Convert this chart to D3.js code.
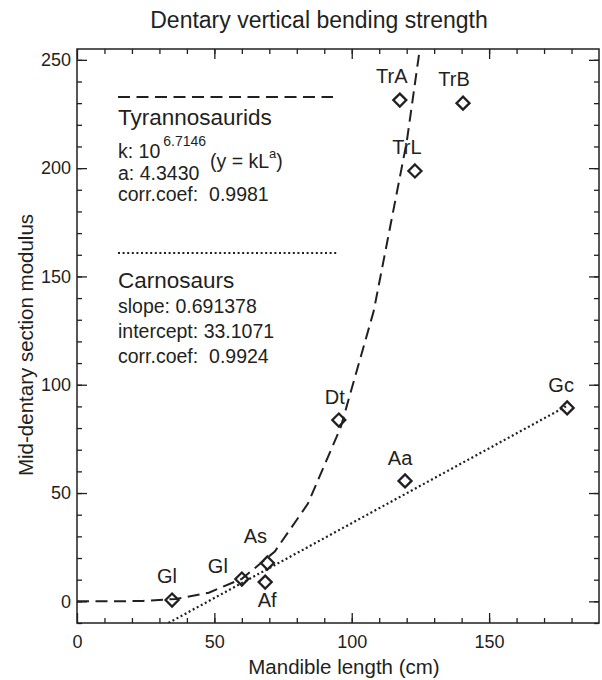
<!DOCTYPE html>
<html>
<head>
<meta charset="utf-8">
<script src="https://cdn.jsdelivr.net/npm/d3@7"></script>
<style>
  body { margin: 0; background: #fff; }
  text { font-family: "Liberation Sans", Arial, sans-serif; fill: #231f20; white-space: pre; }
</style>
</head>
<body>
<div id="chart"></div>
<script>
// species codes and values
var labels = ["Gl", "Gl", "As", "Af", "Dt", "Aa", "Gc", "TrA", "TrB", "TrL"];
var lengths = [34.6, 60, 69.3, 68.5, 95.3, 119.4, 178.4, 117.5, 140.5, 123];
var moduli = [0.6, 10.3, 17.7, 8.9, 83.7, 55.6, 89.3, 231.4, 230, 198.7];

// fitted curves as drawn in the figure
var tyrannoCurveX = [0, 12, 24, 36, 48, 60, 72, 84, 96, 108, 120, 132];
var tyrannoCurveY = [0, 0, 0.2, 1.1, 4, 10.4, 23, 45, 80.4, 134, 212, 320];
var carnoLineX = [33.3, 178];
var carnoLineY = [-10, 90];

var xTicks = [0, 50, 100, 150];
var yTicks = [0, 50, 100, 150, 200, 250];

// label nudges (px) relative to each diamond
var labelDx = [-5, -24, -12, 2, -4, -5, -6, -8, -9, -8];
var labelDy = [-17, -6, -20, 25, -16, -16, -16, -17, -17, -17];

var W = 602, H = 680;
var margin = {top: 49, right: 3, bottom: 57, left: 77};
var width = W - margin.left - margin.right,
    height = H - margin.top - margin.bottom;

var svg = d3.select("#chart").append("svg")
    .attr("width", W)
    .attr("height", H);

var g = svg.append("g")
    .attr("transform", "translate(" + margin.left + "," + margin.top + ")");

var x = d3.scaleLinear().domain([0, 190]).range([0, width]);
var y = d3.scaleLinear().domain([-10, 255]).range([height, 0]);

var ink = "#231f20";

// axes, ticks pointing inward on all four sides
function styleAxis(sel) {
    sel.select(".domain").remove();
    sel.selectAll(".tick line").attr("stroke", ink).attr("stroke-width", 1.3);
    sel.selectAll("text").style("font-size", "18px").attr("fill", ink);
}
var xMinor = d3.range(10, 190, 10), yMinor = d3.range(-10, 255, 10);

g.append("g").attr("transform", "translate(0," + height + ")")
    .call(d3.axisBottom(x).tickValues(xTicks).tickSize(-10).tickSizeOuter(0).tickPadding(12))
    .call(styleAxis);
g.append("g").attr("transform", "translate(0," + height + ")")
    .call(d3.axisBottom(x).tickValues(xMinor).tickSize(-5).tickFormat(""))
    .call(styleAxis);
g.append("g")
    .call(d3.axisTop(x).tickValues(xTicks).tickSize(-10).tickFormat(""))
    .call(styleAxis);
g.append("g")
    .call(d3.axisTop(x).tickValues(xMinor).tickSize(-5).tickFormat(""))
    .call(styleAxis);

g.append("g")
    .call(d3.axisLeft(y).tickValues(yTicks).tickSize(-10).tickPadding(6))
    .call(styleAxis);
g.append("g")
    .call(d3.axisLeft(y).tickValues(yMinor).tickSize(-5).tickFormat(""))
    .call(styleAxis);
g.append("g").attr("transform", "translate(" + width + ",0)")
    .call(d3.axisRight(y).tickValues(yTicks).tickSize(-10).tickFormat(""))
    .call(styleAxis);
g.append("g").attr("transform", "translate(" + width + ",0)")
    .call(d3.axisRight(y).tickValues(yMinor).tickSize(-5).tickFormat(""))
    .call(styleAxis);

g.append("rect")
    .attr("width", width).attr("height", height)
    .attr("fill", "none").attr("stroke", ink).attr("stroke-width", 1.5);

// clip fits to plot area
g.append("clipPath").attr("id", "plotclip")
    .append("rect").attr("width", width).attr("height", height);

var line = d3.line()
    .x(function(d) { return x(d[0]); })
    .y(function(d) { return y(d[1]); });

g.append("path")
    .datum(d3.zip(tyrannoCurveX, tyrannoCurveY))
    .attr("clip-path", "url(#plotclip)")
    .attr("d", line)
    .attr("fill", "none").attr("stroke", ink)
    .attr("stroke-width", 2).attr("stroke-dasharray", "12,6.5");

g.append("path")
    .datum(d3.zip(carnoLineX, carnoLineY))
    .attr("clip-path", "url(#plotclip)")
    .attr("d", line)
    .attr("fill", "none").attr("stroke", ink)
    .attr("stroke-width", 2.2).attr("stroke-dasharray", "2,2.6");

// diamonds
var pts = d3.range(labels.length).map(function(i) {
    return {label: labels[i], x: lengths[i], y: moduli[i], dx: labelDx[i], dy: labelDy[i]};
});
var s = 6.5;
g.selectAll(".pt").data(pts).enter().append("path")
    .attr("class", "pt")
    .attr("d", "M0," + (-s) + "L" + s + ",0L0," + s + "L" + (-s) + ",0Z")
    .attr("transform", function(d) { return "translate(" + x(d.x) + "," + y(d.y) + ")"; })
    .attr("fill", "none").attr("stroke", ink).attr("stroke-width", 2.3);

g.selectAll(".lbl").data(pts).enter().append("text")
    .attr("class", "lbl")
    .attr("x", function(d) { return x(d.x) + d.dx; })
    .attr("y", function(d) { return y(d.y) + d.dy; })
    .attr("text-anchor", "middle")
    .style("font-size", "20px")
    .text(function(d) { return d.label; });

// legend block
var fs = "19.5px", hs = "22.5px";
svg.append("line").attr("x1", 118).attr("x2", 333).attr("y1", 97).attr("y2", 97)
    .attr("stroke", ink).attr("stroke-width", 2).attr("stroke-dasharray", "12,6.5");
svg.append("text").attr("x", 118).attr("y", 125).style("font-size", hs).text("Tyrannosaurids");
var kText = svg.append("text").attr("x", 118).attr("y", 158).style("font-size", fs);
kText.append("tspan").text("k: 10");
kText.append("tspan").attr("dx", 3).attr("dy", -12).style("font-size", "14px").text("6.7146");
var eqText = svg.append("text").attr("x", 210).attr("y", 168).style("font-size", fs);
eqText.append("tspan").text("(y = kL");
eqText.append("tspan").attr("dy", -10).style("font-size", "13px").text("a");
eqText.append("tspan").attr("dy", 10).text(")");
svg.append("text").attr("x", 118).attr("y", 180).style("font-size", fs).text("a: 4.3430");
svg.append("text").attr("x", 118).attr("y", 201).style("font-size", fs).text("corr.coef:  0.9981");

svg.append("line").attr("x1", 118).attr("x2", 337).attr("y1", 253).attr("y2", 253)
    .attr("stroke", ink).attr("stroke-width", 2.2).attr("stroke-dasharray", "2,2.6");
svg.append("text").attr("x", 118).attr("y", 288).style("font-size", hs).text("Carnosaurs");
svg.append("text").attr("x", 118).attr("y", 313).style("font-size", fs).text("slope: 0.691378");
svg.append("text").attr("x", 118).attr("y", 338).style("font-size", fs).text("intercept: 33.1071");
svg.append("text").attr("x", 118).attr("y", 363).style("font-size", fs).text("corr.coef:  0.9924");

// titles
svg.append("text").attr("x", 319).attr("y", 28).attr("text-anchor", "middle")
    .style("font-size", "23px").text("Dentary vertical bending strength");
svg.append("text").attr("x", 344).attr("y", 674).attr("text-anchor", "middle")
    .style("font-size", "20.5px").text("Mandible length (cm)");
svg.append("text").attr("transform", "translate(33,345) rotate(-90)").attr("text-anchor", "middle")
    .style("font-size", "20.5px").text("Mid-dentary section modulus");
</script>
</body>
</html>
